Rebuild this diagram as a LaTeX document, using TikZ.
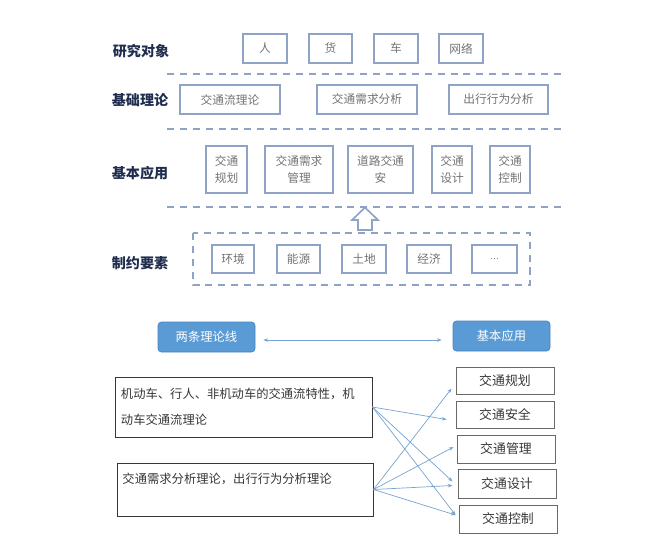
\documentclass[tikz,border=0pt]{standalone}
\usepackage{fontspec}
\setmainfont{Noto Sans CJK SC}
\usetikzlibrary{arrows.meta, positioning, calc}
\definecolor{mynavy}{RGB}{31,45,78}
\definecolor{myframe}{RGB}{143,163,199}
\definecolor{mygray}{RGB}{115,115,115}
\definecolor{myblue}{RGB}{91,155,213}
\definecolor{myblueedge}{RGB}{72,132,192}
\definecolor{mylink}{RGB}{118,163,207}
\definecolor{mydark}{RGB}{55,55,55}
\tikzset{
  layerlabel/.style={font=\bfseries\fontsize{12}{14}\selectfont, text=mynavy},
  itembox/.style={rectangle, draw=myframe, line width=1.4pt, text=mygray,
    font=\fontsize{10}{15}\selectfont, align=center, inner sep=0pt},
  sepline/.style={draw=myframe, line width=1.4pt, dash pattern=on 6pt off 5pt},
  headbox/.style={rectangle, draw=myblueedge, fill=myblue, text=white,
    rounded corners=3pt, font=\fontsize{10.5}{13}\selectfont, inner sep=0pt, line width=0.6pt},
  theorybox/.style={rectangle, draw=mydark, line width=0.8pt, inner sep=0pt,
    text=mydark, font=\fontsize{10.5}{22}\selectfont, align=left, text width=7.35cm},
  appbox/.style={rectangle, draw=mydark!75, line width=0.8pt, text=mydark,
    font=\fontsize{11}{13}\selectfont, inner sep=0pt},
  link/.style={-{Stealth[length=4pt,width=3pt]}, color=mylink, line width=0.6pt},
  sz/.style 2 args={minimum width=#1*0.03cm, minimum height=#2*0.03cm}
}

\begin{document}
\begin{tikzpicture}[x=0.03cm, y=-0.03cm]
  \useasboundingbox (0,0) rectangle (650,546);
  % layer labels
  \node[layerlabel] (lobj)  at (141,51)  {研究对象};
  \node[layerlabel] (lbase) at (140,100) {基础理论};
  \node[layerlabel] (lapp)  at (140,173) {基本应用};
  \node[layerlabel] (lcons) at (140,263) {制约要素};
  % research objects
  \node[itembox, sz={44}{29}] (ren)  at (265,48.5) {人};
  \node[itembox, sz={43}{29}] (huo)  at (330.5,48.5) {货};
  \node[itembox, sz={44}{29}] (che)  at (396,48.5) {车};
  \node[itembox, sz={44}{29}] (wang) at (461,48.5) {网络};
  \draw[sepline] (167,74) -- (562,74);
  % basic theory
  \node[itembox, sz={100}{29}] (tflow) at (230,99.5) {交通流理论};
  \node[itembox, sz={100}{29}] (tdem)  at (367,99.5) {交通需求分析};
  \node[itembox, sz={99}{29}]  (ttrip) at (498.5,99.5) {出行行为分析};
  \draw[sepline] (167,129) -- (562,129);
  % basic applications
  \node[itembox, sz={41}{47}] (aplan) at (226.5,169.5) {交通\\规划};
  \node[itembox, sz={68}{47}] (amgmt) at (299,169.5) {交通需求\\管理};
  \node[itembox, sz={65}{47}] (asafe) at (380.5,169.5) {道路交通\\安};
  \node[itembox, sz={40}{47}] (adsgn) at (452,169.5) {交通\\设计};
  \node[itembox, sz={40}{47}] (actrl) at (510,169.5) {交通\\控制};
  \draw[sepline] (167,207) -- (562,207);
  % constraints
  \draw[sepline] (193,233) rectangle (530,285);
  \draw[draw=myframe, line width=1.4pt, fill=white, line join=miter]
    (358,230) -- (358,220) -- (352,220) -- (365,207.5) -- (378,220) -- (372,220) -- (372,230) -- cycle;
  \node[itembox, sz={42}{28}] (cenv)  at (233,259) {环境};
  \node[itembox, sz={43}{28}] (cener) at (298.5,259) {能源};
  \node[itembox, sz={44}{28}] (cland) at (364,259) {土地};
  \node[itembox, sz={44}{28}] (cecon) at (429,259) {经济};
  \node[itembox, sz={45}{28}] (cetc)  at (494.5,259) {\fontsize{7}{8}\selectfont …};
  % two theory lines
  \node[headbox, sz={97}{30}] (htheory) at (206.5,337) {两条理论线};
  \node[headbox, sz={97}{30}] (happ)    at (501.5,336) {基本应用};
  \draw[link, {Stealth[length=4pt,width=3pt]}-{Stealth[length=4pt,width=3pt]}]
    ($(htheory.east)+(8,3)$) -- ($(happ.west)+(-11,4)$);
  \node[theorybox, sz={257}{60}] (thone) at (243.5,407)
    {机动车、行人、非机动车的交通流特性，机\\动车交通流理论};
  \node[theorybox, sz={256}{53}] (thtwo) at (245,489.5)
    {交通需求分析理论，出行行为分析理论\\[-10pt]\strut};
  \node[appbox, sz={98}{27}] (rplan) at (505,380.5) {交通规划};
  \node[appbox, sz={98}{27}] (rsafe) at (505,414.5) {交通安全};
  \node[appbox, sz={98}{28}] (rmgmt) at (506,449)   {交通管理};
  \node[appbox, sz={98}{29}] (rdsgn) at (507,483.5) {交通设计};
  \node[appbox, sz={98}{28}] (rctrl) at (508,519)   {交通控制};
  % links
  \draw[link] (thone.east) -- ($(rsafe.west)+(-9,5)$);
  \draw[link] (thone.east) -- ($(rdsgn.west)+(-5,-2)$);
  \draw[link] (thone.east) -- ($(rctrl.west)+(-3,-4)$);
  \draw[link] (thtwo.east) -- ($(rplan.west)+(-4,8)$);
  \draw[link] (thtwo.east) -- ($(rmgmt.west)+(-3,-2)$);
  \draw[link] (thtwo.east) -- ($(rdsgn.west)+(-5,2)$);
  \draw[link] (thtwo.east) -- ($(rctrl.west)+(-3,-4)$);
\end{tikzpicture}
\end{document}
